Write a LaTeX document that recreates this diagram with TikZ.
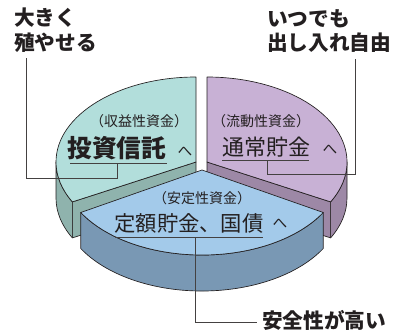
\documentclass[tikz,border=0pt]{standalone}
\usepackage{fontspec}
\newfontfamily\jp{Noto Sans CJK JP}
\usetikzlibrary{calc}
\definecolor{gtop}{HTML}{B2DEDB}
\definecolor{gside}{HTML}{8FB3AD}
\definecolor{ptop}{HTML}{C8B1D5}
\definecolor{pside}{HTML}{9D88A6}
\definecolor{btop}{HTML}{A3CAEA}
\definecolor{bside}{HTML}{7998B4}
\definecolor{ink}{HTML}{231F20}
\begin{document}
\begin{tikzpicture}[x=0.75pt,y=0.75pt,
  face/.style={draw=ink, line width=0.5pt, line join=round},
  leader/.style={draw=ink!85, line width=0.75pt},
  outer/.style={font=\jp\bfseries\fontsize{15.5pt}{18pt}\selectfont, text=ink, inner sep=0pt, anchor=west},
  paren/.style={font=\jp\fontsize{10.5pt}{12pt}\selectfont, text=ink, inner sep=0pt},
  title/.style={font=\jp\fontsize{16.5pt}{18pt}\selectfont, text=ink, inner sep=0pt},
  he/.style={font=\jp\fontsize{11pt}{12pt}\selectfont, text=ink, inner sep=0pt},
  ell/.style={x radius=140, y radius=85}
]
\useasboundingbox (0,0) rectangle (397,330);
\coordinate (Cg) at (196,168);
\coordinate (Cp) at (207,168);
\coordinate (Cb) at (202,160);
% green slice
\path[face,fill=gside] (Cg) -- ($(Cg)+(208:140 and 85)$) -- ++(0,-36) -- ($(Cg)+(0,-36)$) -- cycle;
\path[face,fill=gside] ($(Cg)+(180:140 and 85)$) arc[ell,start angle=180,end angle=208] -- ++(0,-36) arc[ell,start angle=208,end angle=180] -- cycle;
\path[face,fill=gtop] (Cg) -- ($(Cg)+(90:140 and 85)$) arc[ell,start angle=90,end angle=208] -- cycle;
% purple slice
\path[face,fill=pside] (Cp) -- ($(Cp)+(-28:140 and 85)$) -- ++(0,-36) -- ($(Cp)+(0,-36)$) -- cycle;
\path[face,fill=pside] ($(Cp)+(-28:140 and 85)$) arc[ell,start angle=-28,end angle=0] -- ++(0,-36) arc[ell,start angle=0,end angle=-28] -- cycle;
\path[face,fill=ptop] (Cp) -- ($(Cp)+(-28:140 and 85)$) arc[ell,start angle=-28,end angle=90] -- cycle;
% blue slice
\path[face,fill=bside] ($(Cb)+(210:140 and 85)$) arc[ell,start angle=210,end angle=330] -- ++(0,-36) arc[ell,start angle=330,end angle=210] -- cycle;
\path[face,fill=btop] (Cb) -- ($(Cb)+(210:140 and 85)$) arc[ell,start angle=210,end angle=330] -- cycle;

% outside labels
\node[outer] (l1a) at (14,312) {大きく};
\node[outer] (l1b) at (14,287) {殖やせる};
\node[outer] (l2a) at (267,311.5) {いつでも};
\node[outer] (l2b) at (267,287) {出し入れ自由};
\node[outer] (l3) at (262,10) {安全性が高い};

% pie labels
\node[paren] (g1) at (139,209) {（収益性資金）};
\node[title,font=\jp\bfseries\fontsize{18.5pt}{20pt}\selectfont] (g2) at (117,182) {投資信託};
\node[he] (g3) at (185,178) {へ};
\node[paren] (p1) at (261,209) {（流動性資金）};
\node[title] (p2) at (266,183) {通常貯金};
\node[he] (p3) at (330,180) {へ};
\node[paren] (b1) at (202,132) {（安定性資金）};
\node[title,font=\jp\fontsize{16pt}{18pt}\selectfont] (b2) at (189,107) {定額貯金、国債};
\node[he] (b3) at (280,106) {へ};

% leaders
\coordinate (gU1) at (70,167); \coordinate (gU2) at (167,167);
\coordinate (gH) at (117,167); \coordinate (gK) at (26,152); \coordinate (gE) at (26,272);
\draw[leader] (gU1) -- (gU2);
\draw[leader] (gH) |- (gK) -- (gE);
\coordinate (pU1) at (222,170); \coordinate (pU2) at (309,170);
\coordinate (pH) at (267,170); \coordinate (pK) at (355.5,156); \coordinate (pE) at (355.5,271);
\draw[leader] (pU1) -- (pU2);
\draw[leader] (pH) |- (pK) -- (pE);
\coordinate (bU1) at (115,93); \coordinate (bU2) at (263,93);
\coordinate (bH) at (195,93); \coordinate (bE) at (257,8);
\draw[leader] (bU1) -- (bU2);
\draw[leader] (bH) |- (bE);
\end{tikzpicture}
\end{document}
